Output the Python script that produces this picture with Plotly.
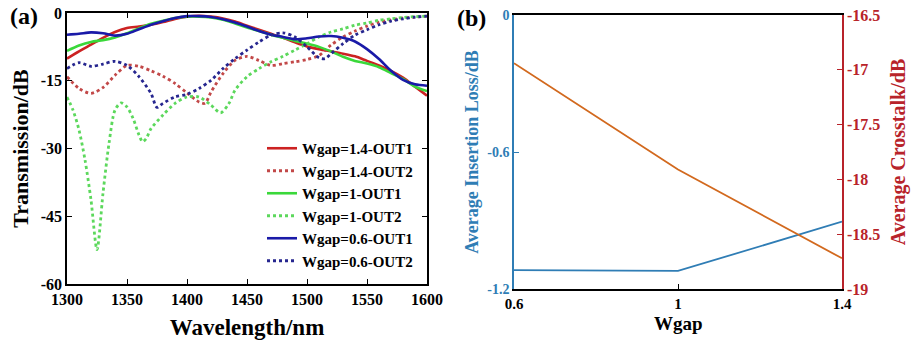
import plotly.graph_objects as go

# ---------------- Panel (a) data ----------------
wl = [1300, 1310, 1320, 1330, 1340, 1350, 1360, 1370, 1380, 1390, 1400, 1410, 1420, 1430,
      1440, 1450, 1460, 1470, 1480, 1490, 1500, 1510, 1520, 1530, 1540, 1550, 1560, 1570,
      1580, 1590, 1600]
w14_out1 = [-10.1, -8.5, -7.0, -5.5, -4.2, -3.3, -3.0, -2.6, -2.0, -1.3, -0.8, -0.6, -0.8, -1.2,
            -1.9, -2.8, -3.7, -4.6, -5.5, -6.5, -7.4, -8.0, -8.5, -9.0, -9.6, -10.6, -11.6, -12.8,
            -14.3, -16.3, -18.3]
w10_out1 = [-8.4, -7.2, -6.4, -6.0, -5.4, -4.5, -3.4, -2.4, -1.7, -1.1, -0.8, -0.8, -1.0, -1.5,
            -2.3, -3.2, -4.0, -4.8, -5.5, -6.2, -6.8, -7.5, -8.5, -9.7, -10.6, -11.2, -12.0, -13.3,
            -14.6, -16.3, -17.3]
w06_out1 = [-4.8, -4.6, -4.3, -4.5, -5.0, -4.6, -3.6, -2.6, -1.8, -1.1, -0.7, -0.7, -0.9, -1.4,
            -2.1, -3.0, -4.0, -4.8, -5.3, -5.8, -5.6, -5.2, -5.1, -5.5, -6.3, -8.0, -10.2, -12.8,
            -14.8, -15.8, -16.1]

wl_14_out2 = [1300, 1310, 1320, 1330, 1340, 1350, 1360, 1370, 1380, 1390, 1400, 1410, 1415, 1420,
              1430, 1440, 1450, 1460, 1470, 1480, 1490, 1500, 1510, 1520, 1530, 1540, 1550, 1560,
              1570, 1580, 1590, 1600]
w14_out2 = [-14.1, -16.7, -17.8, -16.5, -13.8, -11.6, -11.8, -12.8, -14.0, -15.6, -17.7, -19.7, -20.0,
            -17.5, -13.4, -10.5, -9.6, -10.5, -11.6, -11.2, -10.8, -10.3, -9.4, -7.1, -5.3, -4.0,
            -2.9, -2.0, -1.5, -1.1, -0.9, -0.7]

wl_10_out2 = [1300, 1305, 1310, 1315, 1320, 1325, 1330, 1335, 1340, 1345, 1350, 1355, 1360, 1363,
              1366, 1370, 1380, 1390, 1400, 1410, 1420, 1428, 1435, 1440, 1450, 1460, 1470, 1480,
              1490, 1500, 1510, 1520, 1530, 1540, 1550, 1560, 1570, 1580, 1590, 1600]
w10_out2 = [-18.6, -21.5, -25.9, -32.5, -41.4, -52.4, -39.9, -28.9, -21.5, -19.9, -20.8, -23.3, -27.0,
            -28.5, -27.8, -25.6, -22.6, -20.0, -18.6, -18.6, -20.4, -22.1, -20.0, -17.1, -14.1, -12.3,
            -10.8, -9.6, -8.2, -6.8, -5.3, -4.2, -3.5, -2.7, -2.2, -1.6, -1.3, -1.0, -0.8, -0.7]

wl_06_out2 = [1300, 1310, 1320, 1330, 1340, 1350, 1360, 1370, 1375, 1380, 1390, 1400, 1410, 1420,
              1430, 1440, 1450, 1460, 1470, 1480, 1490, 1500, 1510, 1515, 1520, 1530, 1540, 1550,
              1560, 1570, 1580, 1590, 1600]
w06_out2 = [-12.3, -11.0, -11.8, -11.3, -10.7, -11.6, -14.1, -17.8, -20.9, -20.0, -18.6, -18.0, -16.7,
            -14.9, -12.3, -10.1, -8.2, -6.4, -4.9, -4.4, -5.3, -7.5, -9.9, -10.1, -9.0, -6.8, -4.9,
            -3.7, -2.6, -1.8, -1.3, -0.9, -0.7]

x_ticks_a = [1300, 1350, 1400, 1450, 1500, 1550, 1600]
y_ticks_a = [0, -15, -30, -45, -60]
y_ticklabels_a = ["0", "-15", "-30", "-45", "-60"]

# ---------------- Panel (b) data ----------------
wgap = [0.6, 1.0, 1.4]
avg_il = [-1.117, -1.121, -0.905]
avg_ct = [-16.94, -17.91, -18.72]
x_ticks_b = [0.6, 1.0, 1.4]
x_ticklabels_b = ["0.6", "1", "1.4"]
y_ticks_il = [0, -0.6, -1.2]
y_ticklabels_il = ["0", "-0.6", "-1.2"]
y_ticks_ct = [-16.5, -17, -17.5, -18, -18.5, -19]
y_ticklabels_ct = ["-16.5", "-17", "-17.5", "-18", "-18.5", "-19"]

FONT = '"Liberation Serif", "Times New Roman", serif'
BLUE_B = "#2f7db5"
RED_B = "#b8232a"
ORANGE_B = "#d2691e"

fig = go.Figure()

series = [
    ("Wgap=1.4-OUT1", wl, w14_out1, "#cc2222", "solid"),
    ("Wgap=1.4-OUT2", wl_14_out2, w14_out2, "#c24848", "dot"),
    ("Wgap=1-OUT1", wl, w10_out1, "#3ad83a", "solid"),
    ("Wgap=1-OUT2", wl_10_out2, w10_out2, "#5cd85c", "dot"),
    ("Wgap=0.6-OUT1", wl, w06_out1, "#1a1aa8", "solid"),
    ("Wgap=0.6-OUT2", wl_06_out2, w06_out2, "#26268f", "dot"),
]
for name, xs, ys, col, dash in series:
    fig.add_trace(go.Scatter(
        x=xs, y=ys, name=name, mode="lines",
        line=dict(color=col, width=2.6 if dash == "solid" else 2.8, dash=dash, shape="spline", smoothing=0.8),
        xaxis="x", yaxis="y",
    ))

fig.add_trace(go.Scatter(x=wgap, y=avg_il, mode="lines", line=dict(color=BLUE_B, width=1.8),
                         xaxis="x2", yaxis="y2", showlegend=False))
fig.add_trace(go.Scatter(x=wgap, y=avg_ct, mode="lines", line=dict(color=ORANGE_B, width=1.8),
                         xaxis="x2", yaxis="y3", showlegend=False))

W, H = 915, 341
tickfont = dict(family=FONT, size=16, color="black", weight="bold")

fig.update_layout(
    width=W, height=H,
    margin=dict(l=0, r=0, t=0, b=0, autoexpand=False),
    paper_bgcolor="white", plot_bgcolor="white",
    font=dict(family=FONT, color="black"),
    xaxis=dict(
        domain=[67 / W, 427 / W], range=[1300, 1600], tickvals=x_ticks_a, automargin=False,
        showline=True, linecolor="black", linewidth=1.5, mirror="ticks",
        ticks="inside", ticklen=5, tickcolor="black", showgrid=False, zeroline=False,
        tickfont=tickfont,
        title=dict(text="Wavelength/nm", font=dict(family=FONT, size=23, weight="bold"), standoff=12),
    ),
    yaxis=dict(
        domain=[1 - 284 / H, 1 - 13 / H], range=[-60, 0], tickvals=y_ticks_a, ticktext=y_ticklabels_a,
        automargin=False,
        showline=True, linecolor="black", linewidth=1.5, mirror="ticks",
        ticks="inside", ticklen=5, tickcolor="black", showgrid=False, zeroline=False,
        tickfont=tickfont,
        title=dict(text="Transmission/dB", font=dict(family=FONT, size=22, weight="bold"), standoff=6),
    ),
    xaxis2=dict(
        domain=[514 / W, 842 / W], range=[0.6, 1.4], tickvals=x_ticks_b, ticktext=x_ticklabels_b,
        anchor="y2", automargin=False,
        showline=True, linecolor="black", linewidth=1.5, mirror=True,
        ticks="inside", ticklen=5, tickcolor="black", showgrid=False, zeroline=False,
        tickfont=dict(family=FONT, size=15, color="black", weight="bold"),
    ),
    yaxis2=dict(
        domain=[1 - 289 / H, 1 - 15 / H], range=[-1.2, 0], tickvals=y_ticks_il, ticktext=y_ticklabels_il,
        anchor="x2", automargin=False,
        showline=True, linecolor=BLUE_B, linewidth=1.5,
        ticks="inside", ticklen=5, tickcolor=BLUE_B, showgrid=False, zeroline=False,
        tickfont=dict(family=FONT, size=14, color=BLUE_B, weight="bold"),
        title=dict(text="Average Insertion Loss/dB", font=dict(family=FONT, size=18, color=BLUE_B, weight="bold"), standoff=4),
    ),
    yaxis3=dict(
        domain=[1 - 289 / H, 1 - 15 / H], range=[-19, -16.5], tickvals=y_ticks_ct, ticktext=y_ticklabels_ct,
        anchor="x2", overlaying="y2", side="right", automargin=False,
        showline=True, linecolor=RED_B, linewidth=1.5,
        ticks="inside", ticklen=5, tickcolor=RED_B, showgrid=False, zeroline=False,
        tickfont=dict(family=FONT, size=16, color=RED_B, weight="bold"),
        title=dict(text="Average Crosstalk/dB", font=dict(family=FONT, size=20, color=RED_B, weight="bold"), standoff=12),
    ),
    legend=dict(
        x=418 / W, y=1 - 277 / H, xanchor="right", yanchor="bottom",
        bgcolor="rgba(0,0,0,0)", borderwidth=0,
        font=dict(family=FONT, size=15, color="black", weight="bold"),
        tracegroupgap=0, itemwidth=30,
    ),
    showlegend=True,
    annotations=[
        dict(text="(a)", x=40 / W, y=1 - 16 / H, xref="paper", yref="paper", showarrow=False,
             xanchor="right", yanchor="middle", font=dict(family=FONT, size=24, color="black", weight="bold")),
        dict(text="(b)", x=472 / W, y=1 - 18 / H, xref="paper", yref="paper", showarrow=False,
             xanchor="center", yanchor="middle", font=dict(family=FONT, size=24, color="black", weight="bold")),
        dict(text="Wgap", x=678 / W, y=1 - 323 / H, xref="paper", yref="paper", showarrow=False,
             xanchor="center", yanchor="middle", font=dict(family=FONT, size=19, color="black", weight="bold")),
    ],
)

fig.write_html("out.html", config={"displayModeBar": False},
               post_script="document.body.style.margin='0';document.body.style.padding='0';")
